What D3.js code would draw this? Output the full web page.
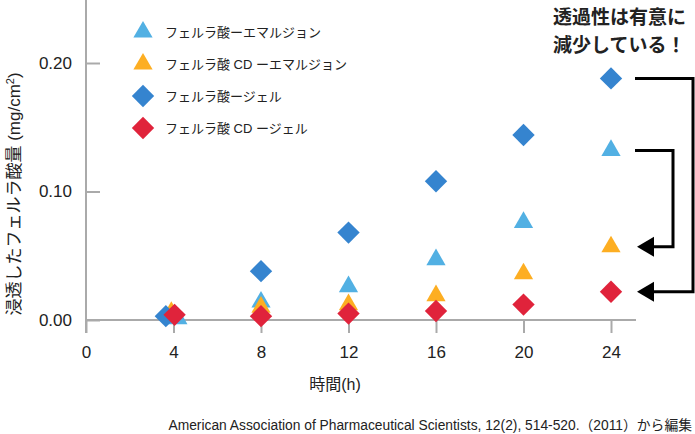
<!DOCTYPE html>
<html>
<head>
<meta charset="utf-8">
<script src="https://cdn.jsdelivr.net/npm/d3@7"></script>
<style>
  body { margin: 0; background: #fff; }
  svg text { font-family: "Liberation Sans", "Noto Sans CJK JP", sans-serif; fill: #222; }
</style>
</head>
<body>
<div class="chart"></div>
<script>
// data (mg/cm2 against hours)
const times = [4, 8, 12, 16, 20, 24]
const emulsion = [0.001, 0.014, 0.026, 0.047, 0.076, 0.132]
const cdEmulsion = [0.006, 0.010, 0.012, 0.019, 0.036, 0.057]
const gel = [0.003, 0.038, 0.068, 0.108, 0.144, 0.188]
const cdGel = [0.004, 0.003, 0.005, 0.007, 0.012, 0.022]
// small sideways nudge at t=4 where the markers overlap
const nudge4 = [0.2, -0.1, -0.35, 0.05]

const seriesNames = ["フェルラ酸ーエマルジョン", "フェルラ酸 CD ーエマルジョン", "フェルラ酸ージェル", "フェルラ酸 CD ージェル"]
const yTicks = [0, 0.1, 0.2]
const xTicks = [0, 4, 8, 12, 16, 20, 24]

const W = 695, H = 434

const series = [
    {name: seriesNames[0], values: emulsion, color: "#52b0e3", shape: "tri"},
    {name: seriesNames[1], values: cdEmulsion, color: "#fdae22", shape: "tri"},
    {name: seriesNames[2], values: gel, color: "#3584cf", shape: "dia"},
    {name: seriesNames[3], values: cdGel, color: "#e0233b", shape: "dia"}
]

const svg = d3.select(".chart")
    .append("svg")
        .attr("width", W)
        .attr("height", H)

let x = d3.scaleLinear().domain([0, 24]).range([86, 611])
let y = d3.scaleLinear().domain([0, 0.2]).range([320, 63])

const axisColor = "#aaa"
const font = "'Liberation Sans', 'Noto Sans CJK JP', sans-serif"

// y axis
const yAxis = svg.append("g")
    .attr("transform", "translate(86,0)")
    .call(d3.axisLeft(y).tickValues(yTicks).tickSize(-14).tickPadding(14).tickFormat(d3.format(".2f")))
yAxis.select(".domain").remove()
yAxis.selectAll("line").attr("stroke", axisColor).attr("stroke-width", 2)
yAxis.selectAll("text").attr("font-size", 17).attr("font-family", font).attr("fill", "#222")

// x axis
const xAxis = svg.append("g")
    .attr("transform", "translate(0,320)")
    .call(d3.axisBottom(x).tickValues(xTicks).tickSize(13).tickPadding(13))
xAxis.select(".domain").remove()
xAxis.selectAll("line").attr("stroke", axisColor).attr("stroke-width", 2)
xAxis.selectAll("text").attr("font-size", 17).attr("font-family", font).attr("fill", "#222")

svg.append("line")
    .attr("x1", 86).attr("x2", 86).attr("y1", 0).attr("y2", 333)
    .attr("stroke", axisColor).attr("stroke-width", 2)
svg.append("line")
    .attr("x1", 85).attr("x2", 636).attr("y1", 320).attr("y2", 320)
    .attr("stroke", axisColor).attr("stroke-width", 2)

const triangle = d3.symbol().type(d3.symbolTriangle).size(160)
const diamond = d3.symbol().type(d3.symbolSquare).size(250)

function marker(sel, s) {
    if (s.shape == "tri") {
        sel.attr("d", triangle)
    } else {
        sel.attr("d", diamond)
    }
}

series.forEach((s, si) => {
    svg.append("g").selectAll("path")
        .data(s.values)
        .enter()
        .append("path")
            .call(marker, s)
            .attr("fill", s.color)
            .attr("transform", function(d, i) {
                let t = times[i] + (i == 0 ? nudge4[si] : 0)
                let rot = s.shape == "dia" ? " rotate(45)" : ""
                return "translate(" + x(t) + "," + y(d) + ")" + rot
            })
})

// legend
const legend = svg.append("g")
series.forEach((s, i) => {
    let ly = 32 + i * 32
    legend.append("path")
        .call(marker, s)
        .attr("fill", s.color)
        .attr("transform", "translate(143," + ly + ")" + (s.shape == "dia" ? " rotate(45)" : ""))
    legend.append("text")
        .attr("x", 165)
        .attr("y", ly)
        .attr("dy", "0.36em")
        .attr("font-size", 13)
        .text(s.name)
})

// axis titles
svg.append("text")
    .attr("transform", "translate(14,194) rotate(-90)")
    .attr("text-anchor", "middle")
    .attr("dy", "0.35em")
    .attr("font-size", 17)
    .html("浸透したフェルラ酸量 (mg/cm<tspan dy='-6' font-size='11'>2</tspan><tspan dy='6'>)</tspan>")

svg.append("text")
    .attr("x", 335)
    .attr("y", 384)
    .attr("dy", "0.35em")
    .attr("text-anchor", "middle")
    .attr("font-size", 16)
    .text("時間(h)")

svg.append("text")
    .attr("x", 692)
    .attr("y", 425)
    .attr("dy", "0.35em")
    .attr("text-anchor", "end")
    .attr("font-size", 13.8)
    .text("American Association of Pharmaceutical Scientists, 12(2), 514-520.（2011）から編集")

// annotation
const note = svg.append("text")
    .attr("font-size", 19)
    .attr("font-weight", "bold")
    .attr("font-family", "'Noto Sans CJK JP', sans-serif")
    .attr("fill", "#111")
note.append("tspan").attr("x", 553).attr("y", 24).text("透過性は有意に")
note.append("tspan").attr("x", 553).attr("y", 52).text("減少している！")

const last = times.length - 1
function bracket(yFrom, yTo, xr) {
    svg.append("path")
        .attr("d", "M635," + yFrom + " H" + xr + " V" + yTo + " H650")
        .attr("fill", "none")
        .attr("stroke", "#000")
        .attr("stroke-width", 3)
    svg.append("path")
        .attr("d", "M637," + yTo + " L654," + (yTo - 10) + " L654," + (yTo + 10) + " Z")
        .attr("fill", "#000")
}
bracket(y(gel[last]), y(cdGel[last]), 693)
bracket(y(emulsion[last]), y(cdEmulsion[last]), 673)
</script>
</body>
</html>
